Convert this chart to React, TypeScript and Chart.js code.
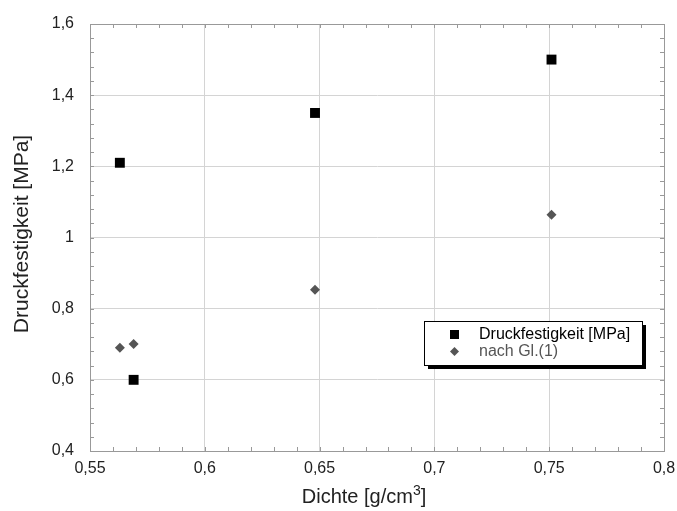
import React, { useEffect, useRef } from "react";
import { Chart, registerables } from "chart.js";

Chart.register(...registerables);

const seriesNames = ["Druckfestigkeit [MPa]", "nach Gl.(1)"];
const densityMeasured = [0.563, 0.569, 0.648, 0.751];
const strengthMeasured = [1.21, 0.6, 1.35, 1.5];
const densityCalc = [0.563, 0.569, 0.648, 0.751];
const strengthCalc = [0.69, 0.701, 0.853, 1.064];
const xTitleMain = "Dichte [g/cm";
const xTitleSup = "3";
const xTitleEnd = "]";
const yTitle = "Druckfestigkeit [MPa]";

const FONT = "'Liberation Sans', Arial, Helvetica, sans-serif";

const fmt = (v: number) => Number(Number(v).toFixed(2)).toString().replace(".", ",");

const framePlugin = {
  id: "frameAndExtras",
  afterDraw(chart: any) {
    const { ctx, chartArea, scales } = chart;
    const { left, right, top, bottom } = chartArea;
    const xs = scales.x;
    const ys = scales.y;
    ctx.save();
    // minor ticks
    ctx.strokeStyle = "#999";
    ctx.lineWidth = 1;
    ctx.beginPath();
    for (let i = 0; i <= 25; i++) {
      const v = 0.55 + i * 0.01;
      const px = Math.round(xs.getPixelForValue(v)) + 0.5;
      ctx.moveTo(px, bottom);
      ctx.lineTo(px, bottom - 4);
      ctx.moveTo(px, top);
      ctx.lineTo(px, top + 4);
    }
    for (let i = 0; i <= 30; i++) {
      const v = 0.4 + i * 0.04;
      const py = Math.round(ys.getPixelForValue(v)) + 0.5;
      ctx.moveTo(left, py);
      ctx.lineTo(left + 4, py);
      ctx.moveTo(right, py);
      ctx.lineTo(right - 4, py);
    }
    ctx.stroke();
    // frame
    ctx.strokeStyle = "#999";
    ctx.strokeRect(Math.round(left) + 0.5, Math.round(top) + 0.5, Math.round(right - left), Math.round(bottom - top));

    // x axis title with superscript
    ctx.fillStyle = "#222";
    ctx.textBaseline = "alphabetic";
    ctx.textAlign = "left";
    ctx.font = `20px ${FONT}`;
    const wMain = ctx.measureText(xTitleMain).width;
    const wEnd = ctx.measureText(xTitleEnd).width;
    ctx.font = `14px ${FONT}`;
    const wSup = ctx.measureText(xTitleSup).width;
    const total = wMain + wSup + wEnd;
    let tx = 364 - total / 2;
    const baseY = 503;
    ctx.font = `20px ${FONT}`;
    ctx.fillText(xTitleMain, tx, baseY);
    tx += wMain;
    ctx.font = `14px ${FONT}`;
    ctx.fillText(xTitleSup, tx, baseY - 8);
    tx += wSup;
    ctx.font = `20px ${FONT}`;
    ctx.fillText(xTitleEnd, tx, baseY);

    // y axis title
    ctx.textAlign = "center";
    ctx.textBaseline = "middle";
    ctx.font = `21px ${FONT}`;
    ctx.save();
    ctx.translate(22, 234);
    ctx.rotate(-Math.PI / 2);
    ctx.fillText(yTitle, 0, 0);
    ctx.restore();

    // legend
    const lx = 424, ly = 321, lw = 218, lh = 44;
    ctx.fillStyle = "#000";
    ctx.fillRect(lx + 4, ly + 4, lw, lh);
    ctx.fillStyle = "#fff";
    ctx.fillRect(lx, ly, lw, lh);
    ctx.strokeStyle = "#000";
    ctx.lineWidth = 1;
    ctx.strokeRect(lx + 0.5, ly + 0.5, lw, lh);
    const ds = chart.data.datasets;
    ctx.font = `16px ${FONT}`;
    ctx.textAlign = "left";
    ctx.textBaseline = "middle";
    ctx.fillStyle = ds[0].backgroundColor;
    ctx.fillRect(450, 330, 9, 9);
    ctx.fillStyle = "#000";
    ctx.fillText(ds[0].label, 479, 335);
    ctx.fillStyle = ds[1].backgroundColor;
    ctx.beginPath();
    ctx.moveTo(454.5, 347);
    ctx.lineTo(459, 351.5);
    ctx.lineTo(454.5, 356);
    ctx.lineTo(450, 351.5);
    ctx.closePath();
    ctx.fill();
    ctx.fillStyle = "#555";
    ctx.fillText(ds[1].label, 479, 352);
    ctx.restore();
  },
};

export default function App() {
  const ref = useRef<HTMLCanvasElement | null>(null);
  useEffect(() => {
    if (!ref.current) return;
    const chart = new Chart(ref.current, {
      type: "scatter",
      data: {
        datasets: [
          {
            label: seriesNames[0],
            data: densityMeasured.map((x, i) => ({ x, y: strengthMeasured[i] })),
            pointStyle: "rect",
            pointRadius: 7,
            backgroundColor: "#000",
            borderColor: "#000",
            borderWidth: 0,
          },
          {
            label: seriesNames[1],
            data: densityCalc.map((x, i) => ({ x, y: strengthCalc[i] })),
            pointStyle: "rectRot",
            pointRadius: 5,
            backgroundColor: "#555",
            borderColor: "#555",
            borderWidth: 0,
          },
        ],
      },
      options: {
        responsive: false,
        animation: false,
        layout: { padding: { left: 0, top: 24, right: 13, bottom: 0 } },
        plugins: { legend: { display: false }, tooltip: { enabled: false } },
        scales: {
          x: {
            type: "linear",
            min: 0.55,
            max: 0.8,
            afterFit: (s: any) => {
              s.height = 60;
              s.paddingLeft = 0;
              s.paddingRight = 0;
            },
            ticks: {
              stepSize: 0.05,
              callback: (v: any) => fmt(v),
              font: { family: FONT, size: 16 },
              color: "#222",
              padding: 8,
              maxRotation: 0,
            },
            grid: { color: "#d4d4d4", drawTicks: false },
            border: { display: true, color: "#999" },
          },
          y: {
            type: "linear",
            min: 0.4,
            max: 1.6,
            afterFit: (s: any) => {
              s.width = 90;
              s.paddingTop = 0;
              s.paddingBottom = 0;
            },
            ticks: {
              stepSize: 0.2,
              callback: (v: any) => fmt(v),
              font: { family: FONT, size: 16 },
              color: "#222",
              padding: 16,
            },
            grid: { color: "#d4d4d4", drawTicks: false },
            border: { display: true, color: "#999" },
          },
        },
      },
      plugins: [framePlugin],
    });
    return () => chart.destroy();
  }, []);
  return (
    <div style={{ position: "absolute", left: 0, top: 0, width: 677, height: 511, background: "#fff" }}>
      <canvas ref={ref} width={677} height={511} />
    </div>
  );
}
